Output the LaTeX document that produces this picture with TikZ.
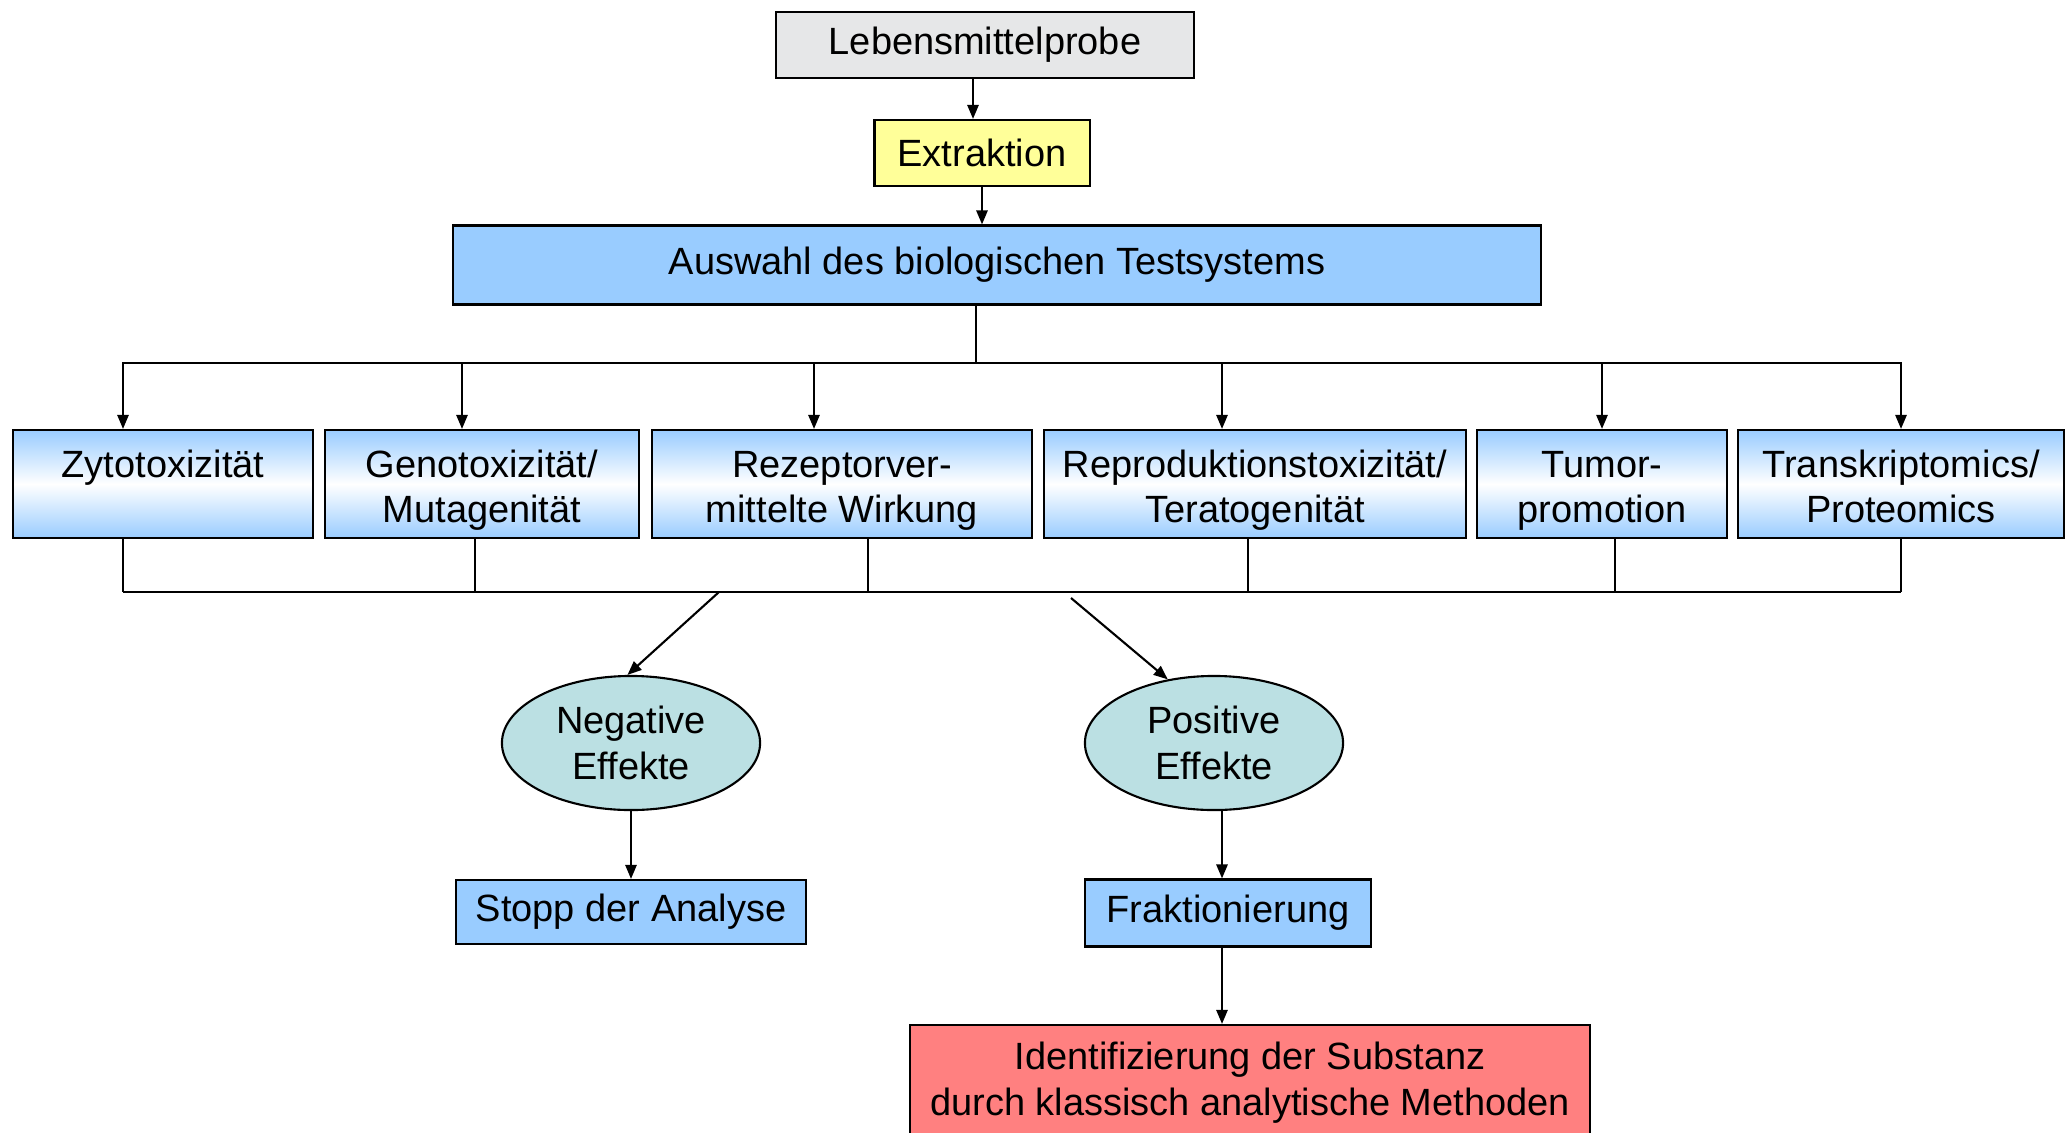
\documentclass[tikz,border=0pt]{standalone}
\usepackage{fontspec}
\setmainfont{Liberation Sans}
\usetikzlibrary{shapes.geometric, arrows.meta}
\definecolor{probegrau}{HTML}{E6E7E8}
\definecolor{extraktgelb}{HTML}{FFFF99}
\definecolor{testblau}{HTML}{99CCFF}
\definecolor{effekttuerkis}{HTML}{BBE0E3}
\definecolor{substanzrot}{HTML}{FF8080}
\newcommand{\kopf}{\rule{0pt}{13pt}}
\tikzset{
  kasten/.style={draw, line width=0.6pt, align=center, inner sep=2pt,
    font=\fontsize{10.8}{13}\selectfont},
  testkasten/.style={kasten, top color=testblau, bottom color=testblau,
    middle color=white, minimum height=1.08cm, inner ysep=0pt},
  effekt/.style={kasten, ellipse, fill=effekttuerkis,
    minimum width=2.58cm, minimum height=1.34cm}
}

\begin{document}
\begin{tikzpicture}[x=0.01cm, y=-0.01cm, line width=0.6pt,
    >={Triangle[length=4pt,width=3.2pt]}]
  \useasboundingbox (0,0) rectangle (2069,1133);

  \node[kasten, fill=probegrau, minimum width=4.18cm, minimum height=0.66cm] (probe) at (985,45) {Lebensmittelprobe};
  \node[kasten, fill=extraktgelb, minimum width=2.15cm, minimum height=0.66cm] (extr) at (982,153) {Extraktion};
  \node[kasten, fill=testblau, minimum width=10.87cm, minimum height=0.79cm] (auswahl) at (997,265) {Auswahl des biologischen Testsystems};

  \node[testkasten, minimum width=3.00cm] (zyto) at (163,484) {\kopf Zytotoxizität\\\strut};
  \node[testkasten, minimum width=3.13cm] (geno) at (482,484) {\kopf Genotoxizität/\\Mutagenität\strut};
  \node[testkasten, minimum width=3.80cm] (rezep) at (842,484) {\kopf Rezeptorver-\\mittelte Wirkung\strut};
  \node[testkasten, minimum width=4.21cm] (repro) at (1255,484) {\kopf Reproduktionstoxizität/\\Teratogenität\strut};
  \node[testkasten, minimum width=2.49cm] (tumor) at (1602,484) {\kopf Tumor-\\promotion\strut};
  \node[testkasten, minimum width=3.26cm] (trans) at (1901,484) {\kopf Transkriptomics/\\Proteomics\strut};

  \node[effekt] (neg) at (631,743) {Negative\\Effekte};
  \node[effekt] (pos) at (1214,743) {Positive\\Effekte};

  \node[kasten, fill=testblau, minimum width=3.49cm, minimum height=0.64cm] (stopp) at (631,912) {Stopp der Analyse};
  \node[kasten, fill=testblau, minimum width=2.86cm, minimum height=0.67cm] (frakt) at (1228,913) {Fraktionierung};
  \node[kasten, fill=substanzrot, minimum width=6.80cm, minimum height=1.16cm] (ident) at (1250,1083) {Identifizierung der Substanz\\durch klassisch analytische Methoden};

  % oberer Teil
  \coordinate (mitte) at (973,0);
  \path[->]
    (probe.south -| mitte) edge (extr.north -| mitte)
    (extr.south) edge (extr.south |- auswahl.north);

  % Verteilung auf die Testsysteme
  \coordinate (oben) at (976,363);
  \draw (auswahl.south -| oben) -- (oben);
  \foreach \n/\dx in {zyto/-40, geno/-20, rezep/-28, repro/-33, tumor/0, trans/0}
    \draw[->] (oben) -| ([xshift=\dx*0.01cm]\n.north);

  % Zusammenfuehrung
  \coordinate (unten) at (0,592);
  \foreach \n/\dx in {zyto/-40, geno/-7, rezep/26, repro/-7, tumor/13, trans/0} {
    \coordinate (fuss-\n) at ([xshift=\dx*0.01cm]\n.south);
    \draw (fuss-\n) -- (fuss-\n |- unten);
  }
  \draw (fuss-zyto |- unten) -- (fuss-trans |- unten);

  \coordinate (negstart) at (719,592);
  \coordinate (posstart) at (1071,598);
  \draw[->] (negstart) -- (neg.93);
  \draw[->] (posstart) -- (pos.126);

  % Auswertung
  \coordinate (posfuss) at ([xshift=0.08cm]pos.south);
  \coordinate (fraktfuss) at ([xshift=-0.06cm]frakt.south);
  \path[->]
    (neg.south) edge (neg.south |- stopp.north)
    (posfuss) edge (posfuss |- frakt.north)
    (fraktfuss) edge (fraktfuss |- ident.north);
\end{tikzpicture}
\end{document}
